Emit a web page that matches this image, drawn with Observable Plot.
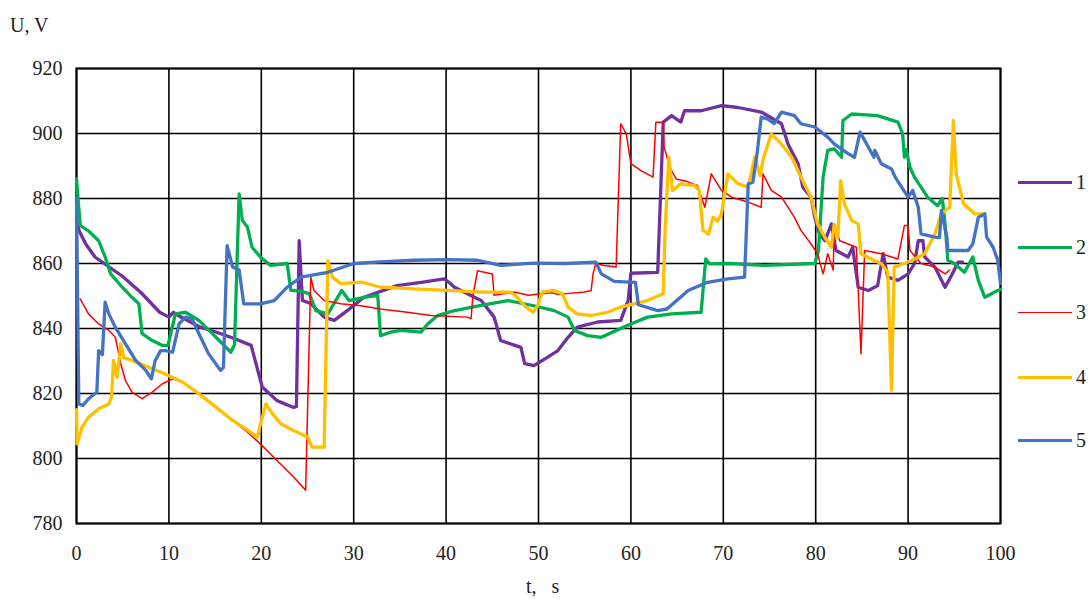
<!DOCTYPE html>
<html>
<head>
<meta charset="utf-8">
<script src="https://cdn.jsdelivr.net/npm/d3@7"></script>
<script src="https://cdn.jsdelivr.net/npm/@observablehq/plot@0.6"></script>
<style>
  html, body { margin: 0; padding: 0; background: #fff; }
  #wrap { position: relative; width: 1089px; height: 599px; font-family: "Liberation Serif", "DejaVu Serif", serif; color: #222; }
  .lbl { position: absolute; font-size: 20px; white-space: pre; }
  #legend { position: absolute; left: 1016px; top: 0; }
  .item { position: absolute; left: 0; width: 73px; height: 20px; }
  .item .sw { position: absolute; left: 2px; width: 54px; top: 50%; }
  .item .tx { position: absolute; left: 60px; top: -2px; font-size: 20px; }
</style>
</head>
<body>
<div id="wrap"></div>
<script>
// ---- data ----
const xTicks = [0, 10, 20, 30, 40, 50, 60, 70, 80, 90, 100];
const yTicks = [780, 800, 820, 840, 860, 880, 900, 920];
const seriesNames = ["1", "2", "3", "4", "5"];
const seriesColors = ["#7030A0", "#00B050", "#FF0000", "#FFC000", "#4472C4"];
const seriesWidths = [3.3, 3.3, 1.5, 3.3, 3.3];

const s1t = [0, 0.3, 1, 2, 3, 5, 7, 8, 9, 10, 10.5, 11, 13.4, 15, 17, 18.9, 20.1, 21.7, 23.5, 23.8, 24.1, 24.45, 25.35, 26.8, 27.9, 29.3, 31.1, 34.7, 37.3, 39.8, 40.4, 40.9, 42.3, 43.8, 45.2, 45.9, 48.1, 48.5, 49.5, 51, 52.1, 53.2, 54.2, 56.4, 58.9, 59.7, 60, 62.9, 63.5, 64.4, 65.4, 65.8, 67.6, 69.8, 71.6, 74.1, 76.3, 77, 78.1, 78.6, 79.5, 79.9, 80.4, 81, 81.7, 82.2, 83.5, 84, 84.6, 85.7, 86.7, 87.3, 87.8, 88.9, 90, 90.7, 91.1, 91.6, 91.8, 92.9, 94, 94.7, 95.4, 95.9];
const s1v = [873, 870, 866, 862, 860, 856, 851, 848, 845, 843.5, 845, 844, 840.4, 839, 837, 834.8, 822, 817.8, 815.7, 816, 867, 848.6, 847.7, 843.5, 842.5, 845.5, 849.6, 853.2, 854.2, 855.3, 854, 852.7, 850.7, 848.6, 843.5, 836.3, 834.2, 829.2, 828.6, 831.2, 833.2, 837.3, 840.4, 842, 842.5, 848.6, 857, 857.3, 903.5, 905.5, 903.5, 907, 907, 908.6, 908, 906.6, 903, 896.8, 890.7, 883.5, 880.4, 874.2, 869.1, 867, 872.2, 864, 862, 865, 852.7, 851.7, 853.2, 863, 855.8, 854.8, 856.8, 860, 867, 867, 862, 858.9, 852.7, 856.3, 860.4, 860.4];

const s2t = [0, 0.4, 1.3, 2.4, 3.1, 3.7, 4.95, 6, 6.75, 7.1, 8.2, 9.3, 9.9, 10.7, 11.8, 13.25, 14.7, 15.8, 16.7, 17.1, 17.6, 17.95, 18.5, 19, 19.9, 21, 22.8, 23.2, 24.3, 25.2, 25.9, 27.2, 28.7, 29.5, 31.1, 32.6, 32.9, 34, 35.1, 37.3, 38, 39.1, 40.9, 43.8, 46.7, 49.5, 51.7, 53.2, 53.9, 55.3, 56.8, 58.5, 60, 61.8, 64.4, 67.6, 68.1, 68.5, 70.7, 74.5, 79.9, 80.3, 80.8, 81.3, 82, 82.8, 82.95, 83.9, 86.7, 88.9, 89.4, 89.6, 89.8, 90.2, 90.7, 91.4, 92.1, 93.2, 93.7, 94, 94.3, 95, 96.1, 97, 97.6, 98.3, 99.7, 100];
const s2v = [886, 871.7, 870, 867, 862, 856.8, 852.7, 849.6, 847.6, 838.4, 836.3, 834.8, 834.8, 844.5, 845, 842.5, 838.4, 835.3, 832.7, 835, 881.4, 873.2, 871.2, 865, 862, 859.4, 860, 851.7, 851.5, 850.7, 845.5, 844.5, 851.7, 848.6, 849.6, 850.2, 837.8, 838.9, 839.4, 838.9, 841.4, 844, 845.5, 847.1, 848.6, 847, 845.5, 843.5, 839.4, 837.8, 837.3, 839.5, 841.4, 843.5, 844.5, 845, 861.4, 859.9, 860, 859.4, 860, 864, 886.6, 894.8, 895.3, 892.7, 904, 906, 905.5, 903.5, 900, 892.7, 895, 889.6, 886.5, 883.5, 880.4, 877.8, 880, 872.2, 861, 860, 857.3, 862, 854.8, 849.6, 851.7, 852];

const s3t = [0.4, 1.3, 2.4, 3.5, 4.2, 4.8, 5.3, 6, 7.1, 8.2, 9.3, 10.4, 11.5, 13.25, 15.1, 16.9, 18.3, 19.9, 21.7, 23.5, 24.8, 25.35, 25.7, 26.8, 28.6, 30.8, 32.9, 35.8, 38.4, 42.3, 42.7, 42.9, 43.4, 45, 45.2, 47.4, 48.9, 50.3, 51.4, 52.1, 55, 55.7, 55.9, 56.2, 57.1, 58.4, 58.9, 59.5, 60, 61.1, 62.4, 62.7, 63.5, 63.6, 64.2, 64.9, 66.1, 67.2, 68, 68.7, 69.8, 70.9, 72.7, 74.1, 74.3, 75.2, 76.3, 77.7, 78.4, 79.5, 80.2, 80.8, 81.3, 81.9, 82, 82.6, 83.5, 84.4, 84.9, 85.3, 87.1, 88.9, 89.6, 90, 90.2, 91.4, 92.9, 94, 94.5];
const s3v = [849.1, 844.5, 841.4, 839.4, 837.3, 829.1, 824, 820.4, 818.4, 820.4, 823, 824.5, 823.5, 819.9, 815.8, 811.7, 808.6, 804.5, 799.4, 794.3, 790.2, 855.8, 851.7, 848.6, 847.6, 847, 846, 845, 844, 843.5, 843, 850, 857.8, 856.8, 850.2, 851.2, 850.2, 850.7, 851, 850.5, 851.2, 851.7, 856.8, 860, 859.4, 858.9, 903, 899.9, 890.7, 888.6, 886.6, 903.5, 903.5, 895.8, 889.6, 886, 885.2, 884, 877.3, 887.6, 882.5, 880.4, 878.9, 877.3, 887.6, 882.5, 880.4, 874.2, 870.2, 866, 863, 856.8, 863, 858, 872.2, 867, 866, 865, 832.2, 864, 863, 861.4, 871.7, 871.7, 864, 860, 858.9, 856.8, 858];

const s4t = [0, 0.07, 0.6, 1.3, 2.4, 3.5, 3.8, 4, 4.4, 4.8, 5.1, 6, 7.8, 9.6, 11.5, 13.25, 15.1, 16.9, 18.3, 19.6, 19.9, 20.5, 21.2, 22.1, 23.5, 25, 25.5, 26.8, 27.2, 27.7, 28.6, 30.8, 32.9, 36.5, 40.2, 43.8, 47, 47.7, 48.5, 49.4, 49.9, 50.4, 51.7, 52.6, 53.2, 54.2, 55.7, 57.5, 58.9, 61.8, 63.5, 63.7, 64.1, 64.5, 65.4, 66.9, 67.4, 67.8, 68.4, 68.9, 69.4, 69.8, 70.5, 71.6, 72.7, 73.4, 74, 74.3, 75.2, 76.3, 77.4, 78.4, 79.5, 80.2, 81, 81.7, 82, 82.4, 82.7, 83.1, 83.9, 84.6, 84.9, 86, 87.1, 87.8, 88.2, 88.5, 89.6, 90.7, 91.8, 92.9, 93.6, 94.5, 94.9, 95.2, 96, 97.2, 98.3];
const s4v = [815, 804.5, 809.6, 812.7, 815.3, 816.8, 819, 830.2, 825, 835.3, 831, 830.2, 828.1, 826, 823.5, 819.9, 815.8, 811.7, 809.1, 806.6, 810.5, 816.8, 813.8, 810.7, 808.6, 806.6, 803.5, 803.5, 860.9, 855.8, 853.8, 854.3, 852.7, 852.2, 851.7, 851.2, 851.2, 849.6, 847, 845, 847, 851.2, 851.7, 850.7, 846.6, 844.5, 844, 845, 846.6, 848.6, 850.7, 870, 892.7, 882.5, 884.5, 884, 882.5, 870.2, 869, 874.2, 873, 875.3, 887.6, 884.5, 883.5, 892.7, 887, 892, 899.9, 896.8, 892.7, 886.6, 880.4, 872.2, 868, 865, 872, 868, 885.5, 878.4, 873.2, 872.2, 863, 861.4, 860, 857.3, 821, 858.9, 860, 861.4, 863, 869.1, 875.3, 877.3, 904, 887.6, 878.4, 875.3, 875.3];

const s5t = [0, 0.25, 0.7, 1.3, 2.2, 2.4, 2.8, 3.1, 3.5, 4.2, 5.3, 6.4, 7.5, 8.1, 8.5, 9.1, 9.6, 10.4, 11.1, 11.8, 12.5, 13.25, 14.3, 15.6, 15.9, 16.3, 16.9, 17.6, 18.1, 19.9, 21.4, 22.8, 24.3, 27.2, 30, 32.9, 36.5, 40.2, 43.4, 45.9, 49.5, 52.8, 56.2, 56.8, 58.2, 60.5, 60.8, 62.9, 63.9, 66.2, 68.3, 70.5, 72.3, 72.7, 73.2, 73.7, 74.1, 74.8, 75.5, 76.3, 77.7, 78.4, 79.9, 81.3, 82, 83.5, 84.2, 84.8, 85.7, 86.3, 86.4, 87.1, 88.2, 88.6, 89.3, 90, 90.5, 91.1, 91.4, 92.9, 93.4, 93.6, 94.2, 94.3, 96.5, 97, 97.6, 98.3, 98.5, 99.2, 99.7, 100];
const s5v = [880, 816.8, 816.3, 818.4, 820.4, 833.2, 832, 848.1, 844.5, 840.4, 835.3, 830.2, 827.1, 824.5, 830, 833.2, 833.2, 832.7, 841.4, 843.5, 843, 838.4, 832.2, 827.1, 828, 865.5, 858.9, 858, 847.6, 847.6, 848.6, 852.7, 855.8, 857.3, 860, 860.5, 861, 861.2, 861, 859.4, 860.1, 860, 860.4, 856.8, 854.5, 854.2, 847.3, 845.5, 846, 851.7, 854.2, 855.3, 855.8, 884.5, 885, 894.8, 905, 904.5, 903, 906.6, 905.5, 903, 902, 898.9, 896.8, 893.8, 892.7, 900.4, 895.8, 892.7, 894.8, 890.7, 889.1, 886.6, 883.5, 880.4, 882.5, 877.3, 869.1, 868.1, 868, 876.3, 868, 864, 864, 866, 874.2, 875.3, 868.1, 865, 861, 853.8];

const seriesT = [s1t, s2t, s3t, s4t, s5t];
const seriesV = [s1v, s2v, s3v, s4v, s5v];

// ---- build ----
const wrap = document.getElementById("wrap");
const lineMarks = seriesNames.map((name, k) =>
  Plot.line(seriesT[k].map((t, i) => ({t, v: seriesV[k][i]})), {
    x: "t", y: "v", stroke: seriesColors[k], strokeWidth: seriesWidths[k],
    strokeLinejoin: "round", strokeLinecap: "round"
  })
);

const chart = Plot.plot({
  width: 1089, height: 599,
  marginLeft: 76, marginRight: 89, marginTop: 68, marginBottom: 76,
  style: {fontFamily: "'Liberation Serif', 'DejaVu Serif', serif", fontSize: "20px", color: "#222", background: "#fff", overflow: "visible"},
  x: {domain: [0, 100]},
  y: {domain: [780, 920]},
  marks: [
    Plot.gridX(xTicks, {stroke: "#000", strokeOpacity: 1, strokeWidth: 1.6}),
    Plot.gridY(yTicks, {stroke: "#000", strokeOpacity: 1, strokeWidth: 1.6}),
    Plot.frame({stroke: "#000", strokeWidth: 2}),
    Plot.axisX(xTicks, {tickSize: 0, tickPadding: 22, label: null, fontSize: 20}),
    Plot.axisY(yTicks, {tickSize: 0, tickPadding: 14, label: null, fontSize: 20}),
    ...lineMarks
  ]
});
wrap.appendChild(chart);

// axis titles
const yl = document.createElement("div");
yl.className = "lbl"; yl.textContent = "U, V";
yl.style.left = "10px"; yl.style.top = "14px";
wrap.appendChild(yl);
const xl = document.createElement("div");
xl.className = "lbl"; xl.textContent = "t,   s";
xl.style.left = "526px"; xl.style.top = "575px";
wrap.appendChild(xl);

// legend
const legend = document.createElement("div");
legend.id = "legend";
const legendY = [183, 248, 313, 378, 441];
seriesNames.forEach((name, k) => {
  const it = document.createElement("div");
  it.className = "item";
  it.style.top = (legendY[k] - 10) + "px";
  const sw = document.createElement("div");
  sw.className = "sw";
  sw.style.borderTop = seriesWidths[k] + "px solid " + seriesColors[k];
  sw.style.marginTop = (-seriesWidths[k] / 2) + "px";
  const tx = document.createElement("div");
  tx.className = "tx"; tx.textContent = name;
  it.appendChild(sw); it.appendChild(tx);
  legend.appendChild(it);
});
wrap.appendChild(legend);
</script>
</body>
</html>
